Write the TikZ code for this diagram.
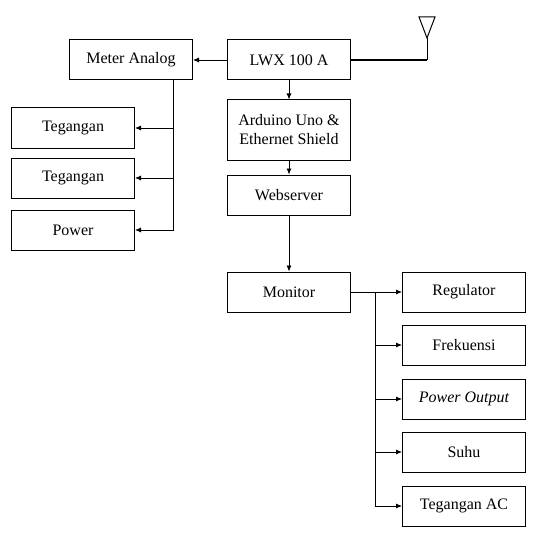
\documentclass[tikz,border=0pt]{standalone}
\usepackage{fontspec}
\setmainfont{Liberation Serif}
\usetikzlibrary{arrows.meta}

\begin{document}
\begin{tikzpicture}[>={Latex[length=6pt,width=5pt]}, x=1pt, y=-1pt,
  blok/.style={draw, line width=1pt, minimum width=123pt, minimum height=40pt,
               inner sep=2pt, align=center, font=\fontsize{16}{19}\selectfont},
  garis/.style={line width=0.8pt}]
  \useasboundingbox (0,0) rectangle (552,535);

  % Main chain
  \node[blok] (lwx) at (289,60) {LWX 100 A};
  \node[blok] (meter) at (131,60) {Meter Analog};
  \node[blok, minimum height=60pt] (ard) at (289,130) {Arduino Uno \&\\Ethernet Shield};
  \node[blok] (web) at (289,195) {Webserver};
  \node[blok] (mon) at (289,292) {Monitor};

  % Meter outputs
  \node[blok] (teg1) at (73,128) {Tegangan};
  \node[blok] (teg2) at (73,178) {Tegangan};
  \node[blok] (pow)  at (73,230) {Power};

  % Monitor outputs
  \node[blok] (reg)   at (464,292) {Regulator};
  \node[blok] (frek)  at (464,345) {Frekuensi};
  \node[blok] (pout)  at (464,399) {\itshape Power Output};
  \node[blok] (suhu)  at (464,452) {Suhu};
  \node[blok] (tegac) at (464,506) {Tegangan AC};

  % Antenna
  \coordinate (ant) at (427,60);
  \draw[line width=1pt] (419,17) -- (435,17) -- (427,38) -- cycle;
  \draw[garis] (427,38) -- (ant);
  \draw[line width=1.2pt] (lwx) -- (ant);

  % Arrows
  \draw[garis,->] (lwx) -- (meter);
  \draw[garis,->] (lwx) -- (ard);
  \draw[garis,->] (ard) -- (web);
  \draw[garis,->] (web) -- (mon);

  \coordinate (ltrunk) at (173,80);
  \foreach \n in {teg1,teg2,pow}
    \draw[garis,->] (ltrunk) |- (\n);

  \coordinate (rtrunk) at (375,292);
  \draw[garis] (mon) -- (rtrunk);
  \foreach \n in {reg,frek,pout,suhu,tegac}
    \draw[garis,->] (rtrunk) |- (\n);
\end{tikzpicture}
\end{document}
